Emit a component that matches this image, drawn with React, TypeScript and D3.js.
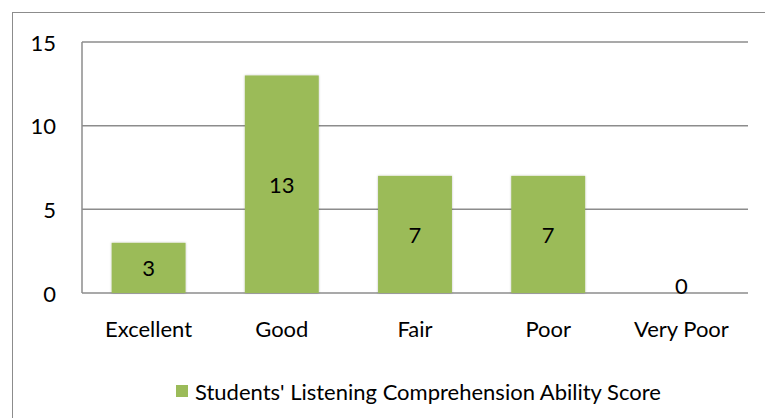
import React from "react";
import * as d3 from "d3";

const categories = ["Excellent", "Good", "Fair", "Poor", "Very Poor"];
const values = [3, 13, 7, 7, 0];
const yTicks = [0, 5, 10, 15];
const seriesName = "Students' Listening Comprehension Ability Score";

const W = 765;
const H = 418;
const FONT = "Lato, 'Open Sans', sans-serif";
const FS = 22;

export default function App() {
  const left = 82, right = 748, top = 42, bottom = 293;
  const x = d3.scaleBand<string>().domain(categories).range([left, right]).paddingInner(0.445).paddingOuter(0.2225);
  const y = d3.scaleLinear().domain([0, 15]).range([bottom, top]);
  const green = "#9BBB59";
  const grid = "#8c8c8c";
  return (
    <svg width={W} height={H} style={{ position: "absolute", left: 0, top: 0, background: "#fff" }}>
      <defs>
        <filter id="sh" x="-20%" y="-20%" width="140%" height="140%">
          <feDropShadow dx="0" dy="0" stdDeviation="1.2" floodColor="#000" floodOpacity="0.25" />
        </filter>
      </defs>
      <rect x={12.5} y={12.5} width={W} height={H} fill="#fff" stroke="#8c8c8c" strokeWidth={1} />
      {yTicks.map((t) => (
        <g key={t}>
          <line x1={left} x2={right} y1={y(t)} y2={y(t)} stroke={grid} strokeWidth={1.5} />
          <text x={56} y={y(t)} textAnchor="end" dominantBaseline="central" fontFamily={FONT} fontSize={FS} fill="#000">
            {t}
          </text>
        </g>
      ))}
      <line x1={left} x2={left} y1={top} y2={bottom} stroke={grid} strokeWidth={1.5} />
      {categories.map((c, i) => {
        const v = values[i];
        const bx = x(c)!;
        const bw = x.bandwidth();
        const by = y(v);
        const mid = (by + y(0)) / 2;
        const ly = Math.min(mid, y(0) - 8);
        return (
          <g key={c}>
            {v > 0 && <rect x={bx} y={by} width={bw} height={y(0) - by} fill={green} filter="url(#sh)" />}
            <text x={bx + bw / 2} y={ly} textAnchor="middle" dominantBaseline="central" fontFamily={FONT} fontSize={FS} fill="#000">
              {v}
            </text>
            <text x={bx + bw / 2} y={328} textAnchor="middle" dominantBaseline="central" fontFamily={FONT} fontSize={FS} fill="#000">
              {c}
            </text>
          </g>
        );
      })}
      <rect x={176} y={385} width={12} height={12} fill={green} />
      <text x={195} y={391} dominantBaseline="central" fontFamily={FONT} fontSize={FS} fill="#000">
        {seriesName}
      </text>
    </svg>
  );
}
